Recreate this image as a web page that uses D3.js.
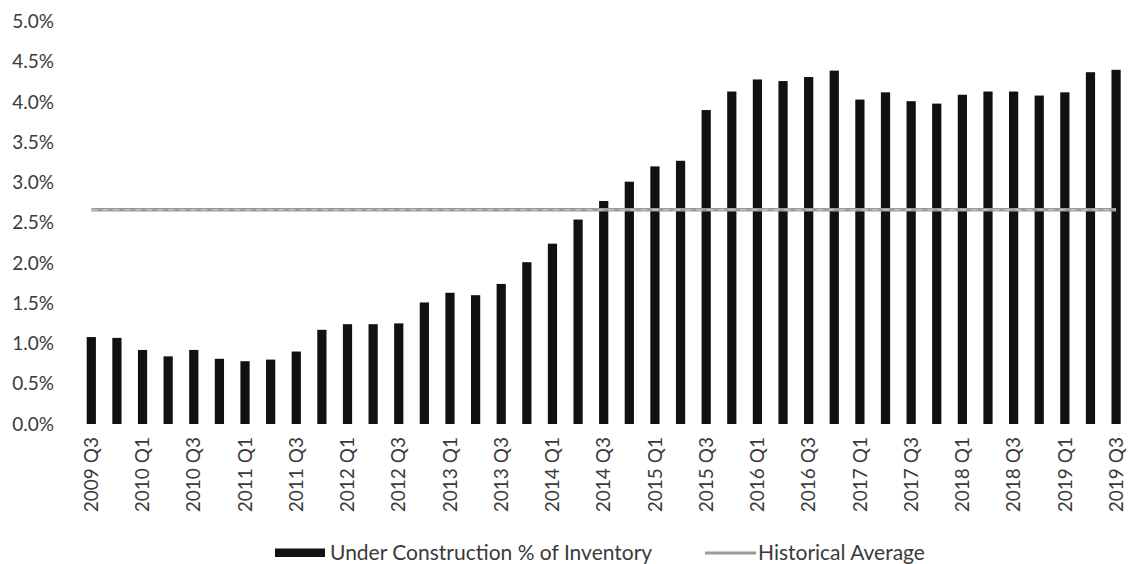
<!DOCTYPE html>
<html>
<head>
<meta charset="utf-8">
<script src="https://cdn.jsdelivr.net/npm/d3@7"></script>
<style>
  html, body { margin: 0; padding: 0; background: #fff; }
  svg { display: block; }
  text { font-family: Lato, "Open Sans", sans-serif; }
</style>
</head>
<body>
<svg id="chart" width="1129" height="564"></svg>
<script>
const categories = [
  "2009 Q3","2009 Q4","2010 Q1","2010 Q2","2010 Q3","2010 Q4",
  "2011 Q1","2011 Q2","2011 Q3","2011 Q4","2012 Q1","2012 Q2",
  "2012 Q3","2012 Q4","2013 Q1","2013 Q2","2013 Q3","2013 Q4",
  "2014 Q1","2014 Q2","2014 Q3","2014 Q4","2015 Q1","2015 Q2",
  "2015 Q3","2015 Q4","2016 Q1","2016 Q2","2016 Q3","2016 Q4",
  "2017 Q1","2017 Q2","2017 Q3","2017 Q4","2018 Q1","2018 Q2",
  "2018 Q3","2018 Q4","2019 Q1","2019 Q2","2019 Q3"
];
// Under Construction % of Inventory (percent)
const underConstruction = [
  1.08, 1.07, 0.92, 0.84, 0.92, 0.81,
  0.78, 0.80, 0.90, 1.17, 1.24, 1.24,
  1.25, 1.51, 1.63, 1.60, 1.74, 2.01,
  2.24, 2.54, 2.77, 3.01, 3.20, 3.27,
  3.90, 4.13, 4.28, 4.26, 4.31, 4.39,
  4.03, 4.12, 4.01, 3.98, 4.09, 4.13,
  4.13, 4.08, 4.12, 4.37, 4.40
];
// Historical Average (percent)
const historicalAverage = categories.map(() => 2.66);
const yTicks = [0, 0.5, 1.0, 1.5, 2.0, 2.5, 3.0, 3.5, 4.0, 4.5, 5.0];
const xTickLabels = categories.filter((d, i) => i % 2 === 0);
const legendLabels = ["Under Construction % of Inventory", "Historical Average"];

const svg = d3.select("#chart");
const textColor = "#3a3a3a";

const x = d3.scaleBand()
  .domain(categories)
  .range([78.5, 1128.9])
  .paddingInner(0.64)
  .paddingOuter(0.32);

const y = d3.scaleLinear()
  .domain([0, 5])
  .range([424, 21.5]);

// Y axis
const yAxis = svg.append("g")
  .attr("transform", "translate(58,0)")
  .call(d3.axisLeft(y).tickValues(yTicks).tickSize(0).tickPadding(4)
    .tickFormat(d => d3.format(".1f")(d) + "%"));
yAxis.select(".domain").remove();
yAxis.selectAll("text")
  .attr("font-size", 19)
  .attr("font-family", "Lato, sans-serif")
  .attr("fill", textColor);

// Bars
svg.append("g")
  .selectAll("rect")
  .data(categories)
  .join("rect")
  .attr("x", d => x(d))
  .attr("width", x.bandwidth())
  .attr("y", (d, i) => y(underConstruction[i]))
  .attr("height", (d, i) => y(0) - y(underConstruction[i]))
  .attr("fill", "#111");

// Historical average line
const line = d3.line()
  .x((d, i) => x(categories[i]) + x.bandwidth() / 2)
  .y(d => y(d));
svg.append("path")
  .datum(historicalAverage)
  .attr("d", line)
  .attr("fill", "none")
  .attr("stroke", "#9a9a9a")
  .attr("stroke-width", 3.5);
svg.append("path")
  .datum(historicalAverage)
  .attr("d", line)
  .attr("fill", "none")
  .attr("stroke", "#d8d8d8")
  .attr("stroke-width", 1)
  .attr("stroke-dasharray", "6 5");

// X axis
const xAxis = svg.append("g")
  .attr("transform", `translate(0,${y(0)})`)
  .call(d3.axisBottom(x).tickValues(xTickLabels).tickSize(0));
xAxis.select(".domain").remove();
xAxis.selectAll("text")
  .attr("transform", "rotate(-90)")
  .attr("text-anchor", "end")
  .attr("x", -13)
  .attr("y", 0)
  .attr("dy", "0.35em")
  .attr("font-size", 19)
  .attr("font-family", "Lato, sans-serif")
  .attr("fill", textColor);

// Legend
const legend = svg.append("g");
legend.append("rect")
  .attr("x", 275).attr("y", 548.5)
  .attr("width", 50).attr("height", 8.5)
  .attr("fill", "#111");
legend.append("text")
  .attr("x", 330).attr("y", 559.5)
  .attr("font-size", 21)
  .attr("fill", textColor)
  .text(legendLabels[0]);
legend.append("line")
  .attr("x1", 705).attr("x2", 756)
  .attr("y1", 553).attr("y2", 553)
  .attr("stroke", "#9a9a9a")
  .attr("stroke-width", 3);
legend.append("text")
  .attr("x", 758).attr("y", 559.5)
  .attr("font-size", 21)
  .attr("fill", textColor)
  .text(legendLabels[1]);
</script>
</body>
</html>
